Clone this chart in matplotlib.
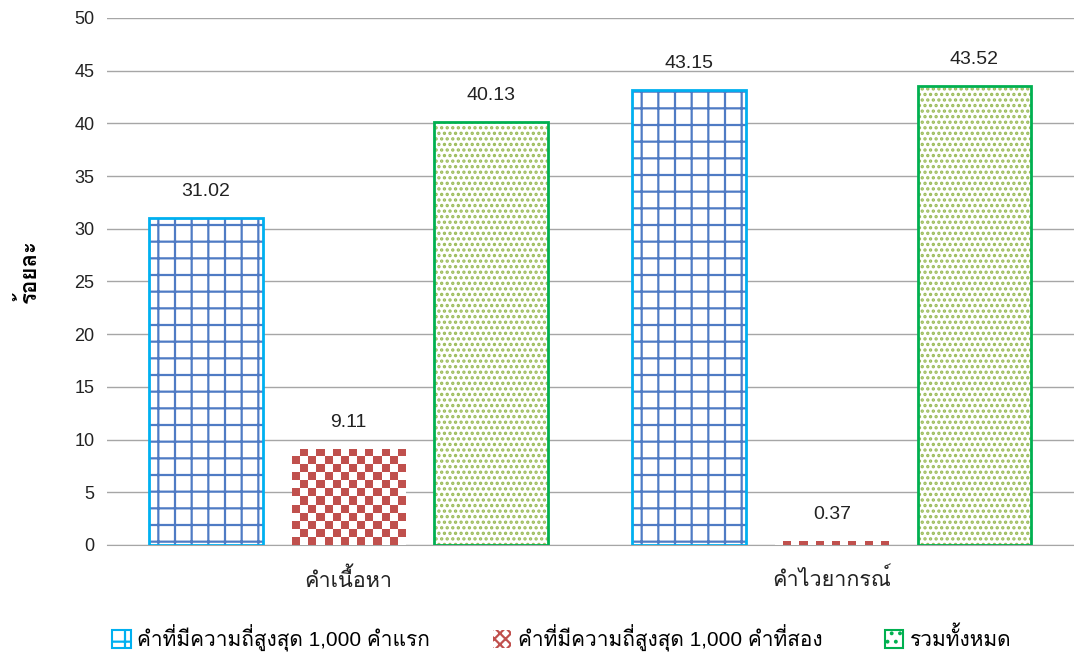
import matplotlib
matplotlib.use('Agg')
import numpy as np
import matplotlib.pyplot as plt
from matplotlib.colors import ListedColormap
from matplotlib.patches import Patch

plt.rcParams['font.family'] = ['Liberation Sans', 'Loma']
plt.rcParams['hatch.linewidth'] = 1.6

categories = ['คำเนื้อหา', 'คำไวยากรณ์']
series_names = ['คำที่มีความถี่สูงสุด 1,000 คำแรก',
                'คำที่มีความถี่สูงสุด 1,000 คำที่สอง',
                'รวมทั้งหมด']
first_1000 = [31.02, 43.15]
second_1000 = [9.11, 0.37]
total = [40.13, 43.52]

BLUE_EDGE = '#00B0F0'
BLUE_HATCH = '#4F7BC4'
RED = '#C0504D'
GREEN_EDGE = '#00B050'
GREEN_DOT = '#9BBB59'

WIDTH = 0.2355
OFFSET = 0.295

fig = plt.figure(figsize=(10.74, 6.54), dpi=100)
ax = fig.add_axes([0.0996, 0.1667, 0.9, 0.8058])
x = np.arange(len(categories))

ax.set_xlim(-0.5, 1.5)
ax.set_ylim(0, 50)

# first 1000: grid hatch + bright outline
ax.bar(x - OFFSET, first_1000, WIDTH, color='white', edgecolor=BLUE_HATCH,
       hatch='+', linewidth=0, zorder=3)
b1 = ax.bar(x - OFFSET, first_1000, WIDTH, fill=False, edgecolor=BLUE_EDGE,
            linewidth=2, zorder=4)

# second 1000: checkerboard fill clipped to each bar
b2 = ax.bar(x, second_1000, WIDTH, color='white', linewidth=0, zorder=3)
checker_cmap = ListedColormap(['white', RED])
px_per_unit_x = ax.transData.transform((1, 0))[0] - ax.transData.transform((0, 0))[0]
px_per_unit_y = ax.transData.transform((0, 1))[1] - ax.transData.transform((0, 0))[1]
cell = 8.0
for bar in b2:
    bx, bw, bh = bar.get_x(), bar.get_width(), bar.get_height()
    nx = int(round(bw * px_per_unit_x / cell))
    ny = max(1, int(np.ceil(bh * px_per_unit_y / cell)))
    grid = (np.add.outer(np.arange(ny), np.arange(nx)) % 2).astype(float)
    top = bh
    bottom = top - ny * cell / px_per_unit_y
    im = ax.imshow(grid, cmap=checker_cmap, vmin=0, vmax=1, interpolation='nearest',
                   extent=(bx, bx + bw, bottom, top), aspect='auto', zorder=3.5)
    im.set_clip_path(bar)

# total: dotted fill + green outline
ax.bar(x + OFFSET, total, WIDTH, color='white', edgecolor=GREEN_DOT,
       hatch='...', linewidth=0, zorder=3)
b3 = ax.bar(x + OFFSET, total, WIDTH, fill=False, edgecolor=GREEN_EDGE,
            linewidth=2, zorder=4)

ax.set_xlim(-0.5, 1.5)
ax.set_ylim(0, 50)

for bars in (b1, b2, b3):
    ax.bar_label(bars, labels=[f'{v:.2f}' for v in bars.datavalues],
                 padding=13, fontsize=14, color='#222222')

ax.set_yticks(np.arange(0, 51, 5))
ax.set_xticks(x)
ax.set_xticklabels(categories)
ax.tick_params(axis='y', length=0, pad=9, labelsize=13, labelcolor='#222222')
ax.tick_params(axis='x', length=0, pad=17, labelsize=15.5, labelcolor='#222222')
ax.grid(axis='y', color='#A6A6A6', linewidth=1, zorder=0)
ax.set_axisbelow(True)
for s in ['top', 'right', 'left']:
    ax.spines[s].set_visible(False)
ax.spines['bottom'].set_color('#A6A6A6')
ax.set_ylabel('ร้อยละ', fontsize=16, fontweight='bold')
ax.yaxis.set_label_coords(-0.068, 0.52)

handles = [
    Patch(facecolor='white', edgecolor=BLUE_EDGE, hatch='+', linewidth=1.5),
    Patch(facecolor='white', edgecolor=RED, hatch='xxx', linewidth=0),
    Patch(facecolor='white', edgecolor=GREEN_EDGE, hatch='..', linewidth=1.5),
]
fig.legend(handles, series_names, loc='lower center', bbox_to_anchor=(0.523, -0.025),
           ncol=3, frameon=False, fontsize=15, handlelength=0.9, handleheight=0.9,
           handletextpad=0.3, columnspacing=3.0)

fig.savefig('out.png', dpi=100)
